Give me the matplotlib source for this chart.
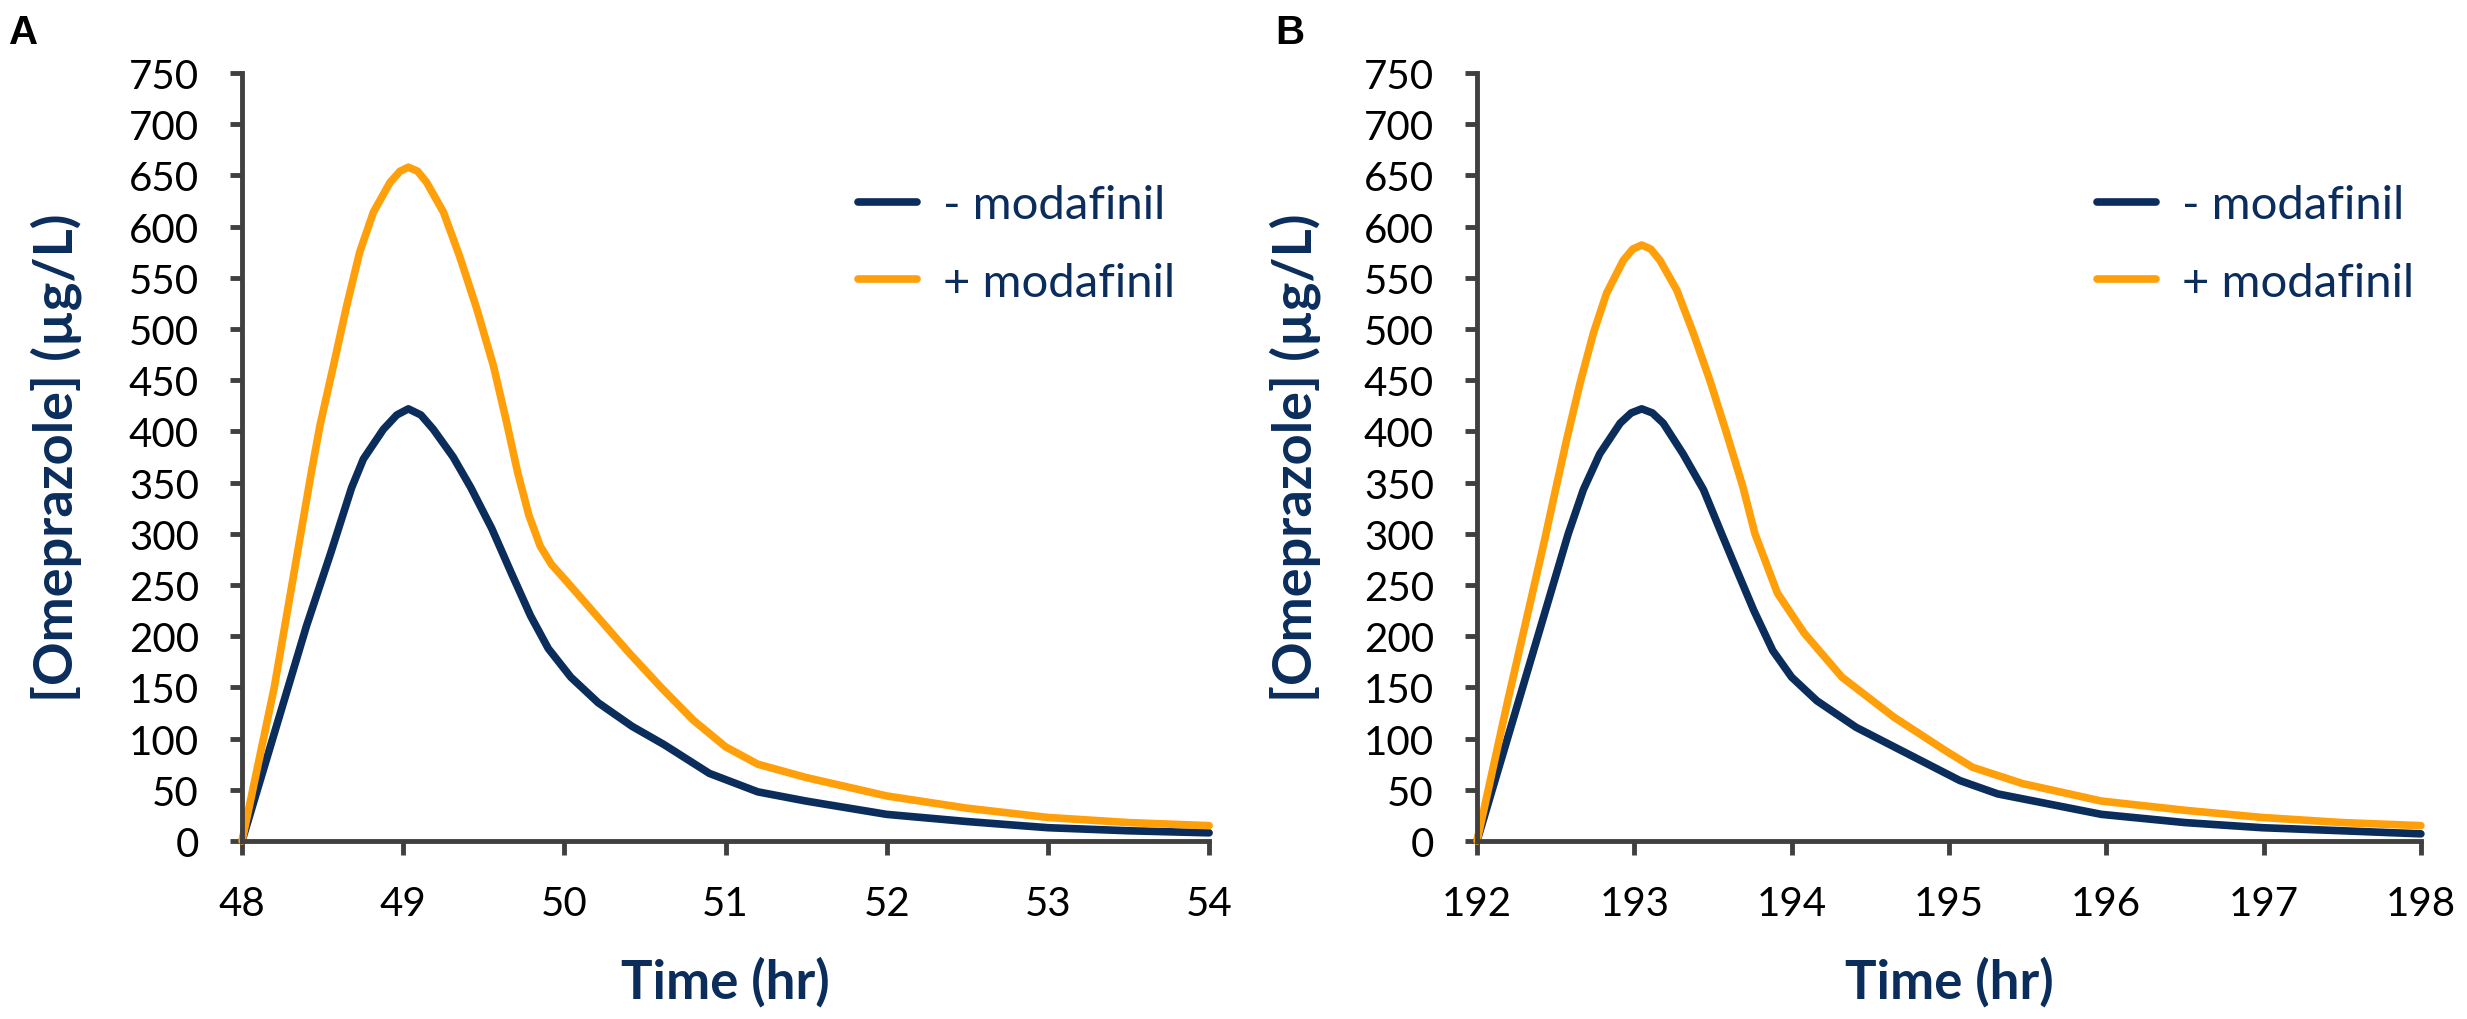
import matplotlib
matplotlib.use("Agg")
import matplotlib.pyplot as plt

plt.rcParams['font.family'] = ['Lato', 'DejaVu Sans']

# panel A: 48-54 hr
time_a = [48.0, 48.2, 48.4, 48.55, 48.68, 48.753, 48.877, 48.96, 49.032, 49.11, 49.187,
          49.31, 49.42, 49.55, 49.67, 49.79, 49.9, 50.04, 50.21, 50.42,
          50.62, 50.9, 51.2, 51.5, 52.0, 52.5, 53.0, 53.5, 54.0]
minus_a = [0, 105, 210, 281, 345, 373, 402, 416, 422, 416, 402,
           375, 345, 305, 262, 220, 188, 160, 135, 112,
           94, 66, 48, 39, 26, 19, 13, 10, 8]

time_a2 = [48.0, 48.2, 48.43, 48.484, 48.567, 48.65, 48.73, 48.815, 48.918, 48.98, 49.032,
           49.09, 49.146, 49.25, 49.35, 49.456, 49.56, 49.64, 49.71, 49.78, 49.85,
           49.92, 50.0, 50.1, 50.2, 50.4, 50.6, 50.8, 51.0, 51.2, 51.5, 52.0, 52.5,
           53.0, 53.5, 54.0]
plus_a = [0, 150, 360, 406, 464, 523, 575, 614, 643, 654, 658,
          654, 643, 614, 571, 520, 464, 410, 360, 318, 288,
          270, 256, 238, 220, 184, 150, 118, 92, 75, 62, 44, 32,
          23, 18, 15]

# panel B: 192-198 hr
time_b = [192.0, 192.3, 192.58, 192.676, 192.78, 192.91, 192.98, 193.047, 193.115, 193.184,
          193.31, 193.44, 193.555, 193.65, 193.76, 193.88, 194.0, 194.16, 194.41,
          194.74, 195.07, 195.31, 195.97, 196.5, 196.99, 197.5, 198.0]
minus_b = [0, 155, 300, 343, 378, 408, 418, 422, 418, 408,
           378, 343, 300, 265, 225, 186, 160, 137, 111,
           85, 59, 46, 26, 18, 13, 10, 7]

time_b2 = [192.0, 192.2, 192.43, 192.485, 192.57, 192.655, 192.74, 192.824, 192.93, 192.99,
           193.047, 193.105, 193.163, 193.27, 193.375, 193.48, 193.587, 193.69, 193.767,
           193.91, 194.08, 194.32, 194.65, 194.98, 195.15, 195.47, 195.97, 196.5,
           196.99, 197.5, 198.0]
plus_b = [0, 140, 294, 333, 392, 447, 496, 535, 567, 578,
          582, 578, 567, 538, 496, 450, 398, 346, 300,
          242, 203, 160, 121, 88, 72, 56, 39, 30,
          23, 18, 15]

labels = ['- modafinil', '+ modafinil']
navy = '#0b2d5c'
orange = '#ffa00a'
axis_gray = '#404040'

fig = plt.figure(figsize=(24.67, 10.2), dpi=100)
ax_a = fig.add_axes([0.0981, 0.1745, 0.392, 0.753])
ax_b = fig.add_axes([0.5987, 0.1745, 0.3826, 0.753])


def style(ax, xs, leg_x):
    ax.set_xlim(xs[0], xs[-1])
    ax.set_ylim(0, 750)
    ax.set_xticks(xs)
    ax.set_yticks(range(0, 751, 50))
    for s in ['top', 'right']:
        ax.spines[s].set_visible(False)
    for s in ['left', 'bottom']:
        ax.spines[s].set_color(axis_gray)
        ax.spines[s].set_linewidth(3.5)
    ax.tick_params(axis='both', colors=axis_gray, width=3.5, labelsize=29,
                   labelcolor='black')
    ax.tick_params(axis='y', length=9, pad=22)
    ax.tick_params(axis='x', length=10, pad=22)
    ax.set_xlabel('Time (hr)', fontsize=38, fontweight='bold', color=navy)
    ax.set_ylabel('[Omeprazole] (µg/L)', fontsize=39, fontweight='bold', color=navy)
    ax.xaxis.set_label_coords(0.5, -0.15)
    ax.yaxis.set_label_coords(-0.165, 0.5)
    ax.legend(frameon=False, loc='upper left', bbox_to_anchor=(leg_x, 0.855),
              fontsize=34, labelcolor=navy, handlelength=1.25, handletextpad=0.55,
              labelspacing=0.75, borderaxespad=0, borderpad=0)


ax_a.plot(time_a, minus_a, color=navy, lw=5.5, solid_capstyle='round',
          solid_joinstyle='round', label=labels[0], clip_on=False)
ax_a.plot(time_a2, plus_a, color=orange, lw=5.5, solid_capstyle='round',
          solid_joinstyle='round', label=labels[1], clip_on=False)
style(ax_a, [48, 49, 50, 51, 52, 53, 54], 0.637)

ax_b.plot(time_b, minus_b, color=navy, lw=5.5, solid_capstyle='round',
          solid_joinstyle='round', label=labels[0], clip_on=False)
ax_b.plot(time_b2, plus_b, color=orange, lw=5.5, solid_capstyle='round',
          solid_joinstyle='round', label=labels[1], clip_on=False)
style(ax_b, [192, 193, 194, 195, 196, 197, 198], 0.657)

fig.text(9 / 2467, 1 - 14 / 1020, 'A', family='Liberation Sans', fontweight='bold',
         fontsize=29, va='top', ha='left')
fig.text(1275 / 2467, 1 - 14 / 1020, 'B', family='Liberation Sans', fontweight='bold',
         fontsize=29, va='top', ha='left')

fig.savefig('out.png', dpi=100)
